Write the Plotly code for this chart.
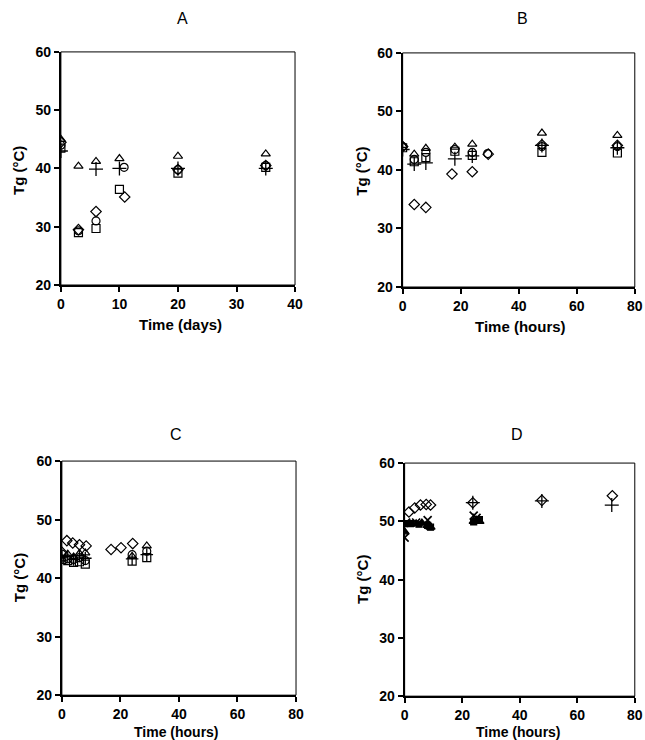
import plotly.graph_objects as go

# ---------------- Panel A (days) ----------------
A_tri_t = [0, 3, 6, 10, 20, 35]
A_tri = [45.0, 40.4, 41.2, 41.7, 42.1, 42.5]
A_plus_t = [0, 6, 10, 20, 35]
A_plus = [43.0, 39.9, 40.0, 40.0, 40.0]
A_circ_t = [0, 3, 6, 10.8, 20, 35]
A_circ = [44.0, 29.3, 31.0, 40.2, 39.8, 40.5]
A_sq_t = [0, 3, 6, 10, 20, 35]
A_sq = [43.5, 29.0, 29.7, 36.4, 39.2, 40.2]
A_dia_t = [0, 3, 6, 10.9, 20, 35]
A_dia = [44.5, 29.5, 32.6, 35.1, 39.8, 40.5]

# ---------------- Panel B (hours) ----------------
B_tri_t = [0, 4, 8, 18, 24, 48, 74]
B_tri = [44.2, 42.7, 43.7, 43.9, 44.4, 46.3, 45.9]
B_plus_t = [0, 4, 8, 18, 24, 48, 74]
B_plus = [43.5, 41.0, 41.2, 41.9, 42.4, 44.2, 43.8]
B_circ_t = [0, 4, 8, 18, 24, 29.3, 48, 74]
B_circ = [44.0, 41.8, 43.0, 43.5, 43.0, 42.8, 44.0, 44.0]
B_sq_t = [0, 4, 8, 18, 24, 48, 74]
B_sq = [43.8, 41.4, 42.1, 43.2, 42.5, 43.0, 42.9]
B_dia_t = [0, 4, 8, 17, 24, 29.5, 48, 74]
B_dia = [44.0, 34.1, 33.6, 39.3, 39.7, 42.7, 44.3, 44.2]

# ---------------- Panel C (hours) ----------------
C_dia_t = [0, 1.7, 3.7, 6, 8.3, 16.8, 20.2, 24.2]
C_dia = [44.4, 46.4, 46.0, 45.7, 45.5, 44.9, 45.2, 45.9]
C_tri_t = [0, 2, 4, 6, 8, 24, 29]
C_tri = [43.3, 44.1, 43.6, 44.2, 44.3, 43.7, 45.5]
C_circ_t = [0, 2, 4, 6, 8, 24, 29]
C_circ = [44.1, 43.3, 43.2, 43.5, 43.0, 44.0, 44.6]
C_sq_t = [0, 2, 4, 6, 8, 24, 29]
C_sq = [43.2, 43.0, 42.7, 42.8, 42.4, 42.9, 43.5]
C_plus_t = [0, 2, 4, 6, 8, 24, 29]
C_plus = [43.6, 43.7, 43.2, 43.8, 43.4, 43.3, 44.0]

# ---------------- Panel D (hours) ----------------
D_dia_t = [1.5, 3.5, 5.5, 7.5, 9, 23.7, 47.7, 72.2]
D_dia = [51.6, 52.3, 52.8, 52.9, 52.8, 53.2, 53.6, 54.4]
D_plus_t = [23.7, 47.7, 72]
D_plus = [53.2, 53.5, 52.8]
D_tri_t = [0, 2, 4, 6, 8, 9, 24, 25, 26]
D_tri = [48.2, 49.5, 49.6, 49.7, 49.3, 49.0, 50.0, 50.2, 50.0]
D_x_t = [0, 0.5, 4, 8, 24, 25]
D_x = [47.2, 49.8, 49.8, 50.2, 51.0, 50.6]
D_sq_t = [0, 2, 5, 8, 9, 24, 26]
D_sq = [49.6, 49.6, 49.5, 49.3, 49.0, 49.9, 50.3]

FONT = "Liberation Sans, Arial, sans-serif"
BLACK = "black"

fig = go.Figure()


def add(xs, ys, symbol, ax, size=8, lw=1.2):
    fig.add_trace(go.Scatter(
        x=xs, y=ys, mode="markers", showlegend=False,
        xaxis="x" + ax, yaxis="y" + ax,
        marker=dict(symbol=symbol, size=size, color=BLACK,
                    line=dict(color=BLACK, width=lw)),
    ))


# A
add(A_tri_t, A_tri, "triangle-up-open", "")
add(A_plus_t, A_plus, "cross-thin-open", "", size=10, lw=1.3)
add(A_circ_t, A_circ, "circle-open", "")
add(A_sq_t, A_sq, "square-open", "")
add(A_dia_t, A_dia, "diamond-open", "", size=8)
# B
add(B_tri_t, B_tri, "triangle-up-open", "2")
add(B_plus_t, B_plus, "cross-thin-open", "2", size=10, lw=1.3)
add(B_circ_t, B_circ, "circle-open", "2")
add(B_sq_t, B_sq, "square-open", "2")
add(B_dia_t, B_dia, "diamond-open", "2", size=8)
# C
add(C_dia_t, C_dia, "diamond-open", "3", size=8)
add(C_tri_t, C_tri, "triangle-up-open", "3")
add(C_circ_t, C_circ, "circle-open", "3")
add(C_sq_t, C_sq, "square-open", "3")
add(C_plus_t, C_plus, "cross-thin-open", "3", size=9, lw=1.3)
# D
add(D_dia_t, D_dia, "diamond-open", "4", size=8)
add(D_plus_t, D_plus, "cross-thin-open", "4", size=10, lw=1.3)
add(D_tri_t, D_tri, "triangle-up", "4", size=8)
add(D_x_t, D_x, "x-thin-open", "4", size=8, lw=1.7)
add(D_sq_t, D_sq, "square", "4", size=6)

tickfont = dict(family=FONT, size=14, color=BLACK, weight="bold")


def xax(dom, anchor, rng, dtick):
    return dict(domain=dom, anchor=anchor, range=rng, dtick=dtick,
                showgrid=False, zeroline=False, showline=True,
                linecolor=BLACK, linewidth=2, ticks="outside", ticklen=5,
                tickwidth=1.5, tickcolor=BLACK, tickfont=tickfont)


def yax(dom, anchor):
    return dict(domain=dom, anchor=anchor, range=[20, 60], dtick=10,
                showgrid=False, zeroline=False, showline=True,
                linecolor=BLACK, linewidth=2, ticks="outside", ticklen=5,
                tickwidth=1.5, tickcolor=BLACK, tickfont=tickfont)


W, H = 645, 740
# compensation for the photographed picture framing
SX, BX = 0.985, 2.9
SY, BY = 0.978, 7.1

def mx(v):
    return (v - BX) / SX

def my(v):
    return (v - BY) / SY

def px(a, b):
    return [max(0, mx(a) / W), min(1, mx(b) / W)]

def py(top, bottom):
    return [max(0, 1 - my(bottom) / H), min(1, 1 - my(top) / H)]

fig.update_layout(
    width=W, height=H,
    margin=dict(l=0, r=0, t=0, b=0, pad=0),
    paper_bgcolor="white", plot_bgcolor="white",
    xaxis=xax(px(60, 295), "y", [0, 40], 10),
    yaxis=yax(py(51, 284), "x"),
    xaxis2=xax(px(403, 636), "y2", [0, 80], 20),
    yaxis2=yax(py(52, 286), "x2"),
    xaxis3=xax(px(61, 296), "y3", [0, 80], 20),
    yaxis3=yax(py(460, 694), "x3"),
    xaxis4=xax(px(405, 636), "y4", [0, 80], 20),
    yaxis4=yax(py(462, 695), "x4"),
)

# thin frame (top/right edges)
for ax in ["", "2", "3", "4"]:
    fig.add_shape(type="rect", xref=f"x{ax} domain", yref=f"y{ax} domain",
                  x0=0, x1=1, y0=0, y1=1, line=dict(color=BLACK, width=1))

def ann(text, x, y, size, bold=False, angle=0):
    fig.add_annotation(text=text, x=mx(x) / W, y=1 - my(y) / H,
                       xref="paper", yref="paper",
                       showarrow=False, textangle=angle,
                       font=dict(family=FONT, size=size, color=BLACK,
                                 weight="bold" if bold else "normal"),
                       xanchor="center", yanchor="middle")

# panel titles
ann("A", 182, 18, 16)
ann("B", 523, 18, 16)
ann("C", 176, 433, 16)
ann("D", 518, 433, 16)
# y titles
ann("Tg (°C)", 18, 170, 15, True, -90)
ann("Tg (°C)", 362, 170, 15, True, -90)
ann("Tg (°C)", 18, 577, 15, True, -90)
ann("Tg (°C)", 362, 578, 15, True, -90)
# x titles
ann("Time (days)", 180, 323, 15, True)
ann("Time (hours)", 521, 325, 15, True)
ann("Time (hours)", 176, 731, 14, True)
ann("Time (hours)", 519, 731, 14, True)

fig.write_html(
    "out.html",
    config={"displayModeBar": False},
    post_script="document.body.style.margin='0';document.body.style.overflow='hidden';",
)
